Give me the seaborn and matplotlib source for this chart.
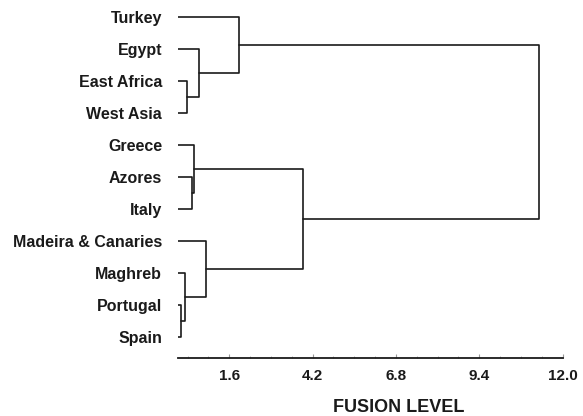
import matplotlib
matplotlib.use("Agg")
import matplotlib.pyplot as plt
import seaborn as sns
import pandas as pd
import numpy as np
from matplotlib.ticker import FixedLocator

# ---- data ----
leaves = ["Turkey", "Egypt", "East Africa", "West Asia", "Greece", "Azores",
          "Italy", "Madeira & Canaries", "Maghreb", "Portugal", "Spain"]
# merges: ids 0..10 are leaves, new clusters get ids 11, 12, ...
merge_left = [9, 8, 2, 5, 4, 1, 7, 0, 15, 18]
merge_right = [10, 11, 3, 6, 14, 13, 12, 16, 17, 19]
merge_height = [0.10, 0.22, 0.27, 0.45, 0.50, 0.66, 0.87, 1.91, 3.90, 11.28]
xticks = [1.6, 4.2, 6.8, 9.4, 12.0]
xtick_labels = ["1.6", "4.2", "6.8", "9.4", "12.0"]

# ---- build dendrogram polylines ----
pos = {i: (0.0, float(i)) for i in range(len(leaves))}
rows = []
for k, (a, b, h) in enumerate(zip(merge_left, merge_right, merge_height)):
    xa, ya = pos[a]
    xb, yb = pos[b]
    pts = [(xa, ya), (h, ya), (h, yb), (xb, yb)]
    for j, (x, y) in enumerate(pts):
        rows.append({"merge": k, "order": j, "x": x, "y": y})
    pos[len(leaves) + k] = (h, (ya + yb) / 2.0)
df = pd.DataFrame(rows)

sns.set_style("white")
plt.rcParams["font.family"] = ["Liberation Sans", "DejaVu Sans"]

fig = plt.figure(figsize=(5.83, 4.16), dpi=100)
left_px, right_px, bottom_px = 178, 562.5, 357.7
ax = fig.add_axes([left_px / 583, (416 - bottom_px) / 416,
                   (right_px - left_px) / 583, bottom_px / 416])

sns.lineplot(data=df, x="x", y="y", units="merge", estimator=None, sort=False,
             color="#1a1a1a", linewidth=1.2, ax=ax, legend=False)

ax.set_xlim(0, 12.0)
ax.set_ylim(10.637, -0.531)

for s in ["left", "top", "right"]:
    ax.spines[s].set_visible(False)
ax.spines["bottom"].set_linewidth(1.3)
ax.spines["bottom"].set_color("#1a1a1a")

ax.set_xticks(xticks)
ax.set_xticklabels(xtick_labels, fontsize=11, fontweight="bold", color="#1a1a1a")
ax.xaxis.set_minor_locator(FixedLocator([0.3, 0.95] + [1.6 + 0.65 * i for i in range(1, 16) if i % 4 != 0]))
ax.tick_params(axis="x", which="major", direction="in", length=3, width=0.8,
               color="#999999", pad=8, bottom=True)
ax.tick_params(axis="x", which="minor", direction="in", length=1.5, width=0.6,
               color="#aaaaaa", bottom=True)

ax.set_yticks(range(len(leaves)))
ax.set_yticklabels(leaves, fontsize=11.5, fontweight="bold", color="#1a1a1a")
ax.tick_params(axis="y", length=0, pad=11.5)

ax.set_xlabel("FUSION LEVEL", fontsize=13, fontweight="bold", color="#1a1a1a")
ax.xaxis.set_label_coords((398.7 - left_px) / (right_px - left_px), -0.115)
ax.set_ylabel("")

fig.savefig("out.png", dpi=100)
